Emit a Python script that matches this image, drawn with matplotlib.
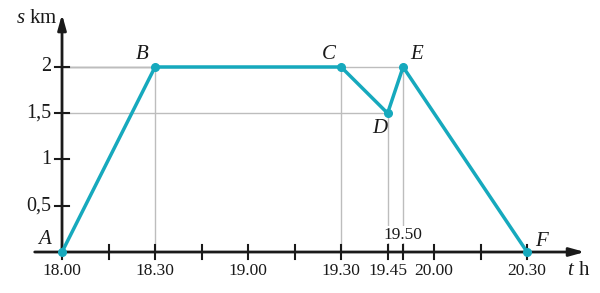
import matplotlib.pyplot as plt

# minutes after 18.00 and distance in km
names = ["A", "B", "C", "D", "E", "F"]
t_min = [0, 30, 90, 105, 110, 150]
s_km = [0, 2, 2, 1.5, 2, 0]

x_ticks = [0, 15, 30, 45, 60, 75, 90, 105, 110, 120, 135, 150]
x_labels = ["18.00", "", "18.30", "", "19.00", "", "19.30", "19.45", "", "20.00", "", "20.30"]
y_ticks = [0.5, 1, 1.5, 2]
y_labels = ["0,5", "1", "1,5", "2"]

teal = "#16a9bd"
grid = "#bdbdbd"
black = "#1a1a1a"
serif = ["Liberation Serif", "DejaVu Serif"]

plt.rcParams["mathtext.fontset"] = "custom"
plt.rcParams["mathtext.rm"] = "Liberation Serif"
plt.rcParams["mathtext.it"] = "Liberation Serif:italic"

fig = plt.figure(figsize=(6, 2.93), dpi=100)
ax = fig.add_axes([0, 0, 1, 1])
ax.set_xlim(-20, 173.5)
ax.set_ylim(-0.443, 2.724)
ax.axis("off")

# guide lines
for i in range(1, 5):
    ax.plot([t_min[i], t_min[i]], [0, s_km[i]], color=grid, lw=1, zorder=1)
    ax.plot([0, t_min[i]], [s_km[i], s_km[i]], color=grid, lw=1, zorder=1)

# axes with arrows
arrow = dict(arrowstyle="-|>,head_length=0.9,head_width=0.25", color=black, lw=2)
ax.annotate("", xy=(169.5, 0), xytext=(-9.7, 0), arrowprops=arrow, zorder=2)
ax.annotate("", xy=(0, 2.6), xytext=(0, 0), arrowprops=arrow, zorder=2)

# ticks
for xt, lab in zip(x_ticks, x_labels):
    ax.plot([xt, xt], [-0.075, 0.075], color=black, lw=1.5, zorder=2)
    if lab:
        ax.text(xt, -0.12, lab, ha="center", va="top", fontsize=12.5, family=serif, color=black)
ax.text(110, 0.1, "19.50", ha="center", va="bottom", fontsize=12.5, family=serif, color=black,
        bbox=dict(facecolor="white", edgecolor="none", pad=0.5), zorder=1.5)
for yt, lab in zip(y_ticks, y_labels):
    ax.plot([-2.2, 2.2], [yt, yt], color=black, lw=1.5, zorder=2)
    ax.text(-3.5, yt, lab, ha="right", va="center", fontsize=14.5, family=serif, color=black)

# axis names
ax.text(-1.5, 2.52, "$\\it{s}$ km", ha="right", va="center", fontsize=15, family=serif, color=black)
ax.text(163, -0.2, "$\\it{t}$ h", ha="left", va="center", fontsize=15, family=serif, color=black)

# journey
ax.plot(t_min, s_km, color=teal, lw=2.5, marker="o", markersize=5.5, zorder=3, solid_joinstyle="round")

offsets = {"A": (-5.5, 0.13), "B": (-4, 0.13), "C": (-4, 0.13), "D": (-2.5, -0.16),
           "E": (4.5, 0.13), "F": (4.5, 0.11)}
for n, t, s in zip(names, t_min, s_km):
    dx, dy = offsets[n]
    ax.text(t + dx, s + dy, n, ha="center", va="center", fontsize=15, style="italic",
            family=serif, color=black)

fig.savefig("out.png", dpi=100)
